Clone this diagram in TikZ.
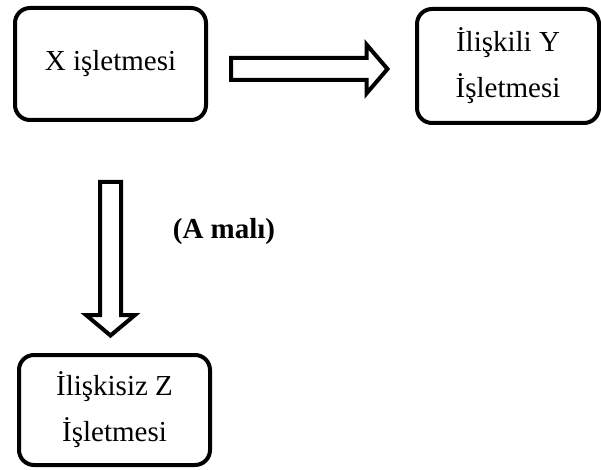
\documentclass[tikz,border=0pt]{standalone}
\usepackage{fontspec}
\setmainfont{Liberation Serif}
\usetikzlibrary{calc}
\tikzset{
    firmbox/.style={draw,line width=4pt,rounded corners=15pt,align=center,
        font=\fontsize{29}{46}\selectfont,inner sep=0pt},
    blockarrow/.style={draw,line width=4pt,fill=white,miter limit=10}
}

\begin{document}
\begin{tikzpicture}[x=1pt,y=-1pt]
            \useasboundingbox (0,0) rectangle (601,470);
            \node[firmbox,minimum width=191pt,minimum height=112pt] (xfirm) at (110.5,64) {X işletmesi};
            \node[firmbox,minimum width=182pt,minimum height=114pt] (yfirm) at (508,66) {İlişkili Y\\İşletmesi};
            \node[firmbox,minimum width=191pt,minimum height=110pt] (zfirm) at (114.5,410) {İlişkisiz Z\\İşletmesi};
            % arrow to the related firm
            \coordinate (hstart) at ($(xfirm.east)+(23,5)$);
            \coordinate (htip) at ($(yfirm.west)+(-27.5,3)$);
            \draw[blockarrow] ($(hstart)+(0,-11)$)
                -- ($(htip)+(-21,-11)$)
                -- ($(htip)+(-21,-24.5)$)
                -- (htip)
                -- ($(htip)+(-21,24.5)$)
                -- ($(htip)+(-21,11)$)
                -- ($(hstart)+(0,11)$)
                -- cycle;
            % arrow to the unrelated firm
            \coordinate (vstart) at ($(xfirm.south)+(0,60)$);
            \coordinate (vtip) at ($(zfirm.north)+(-4,-17.5)$);
            \draw[blockarrow] ($(vstart)+(-10.5,0)$)
                -- ($(vtip)+(-10.5,-20.5)$)
                -- ($(vtip)+(-24.5,-20.5)$)
                -- (vtip)
                -- ($(vtip)+(24.5,-20.5)$)
                -- ($(vtip)+(10.5,-20.5)$)
                -- ($(vstart)+(10.5,0)$)
                -- cycle;
            \node[anchor=base,font=\fontsize{29}{34}\selectfont\bfseries] (goods) at (224,238) {(A malı)};
        \end{tikzpicture}
\end{document}
